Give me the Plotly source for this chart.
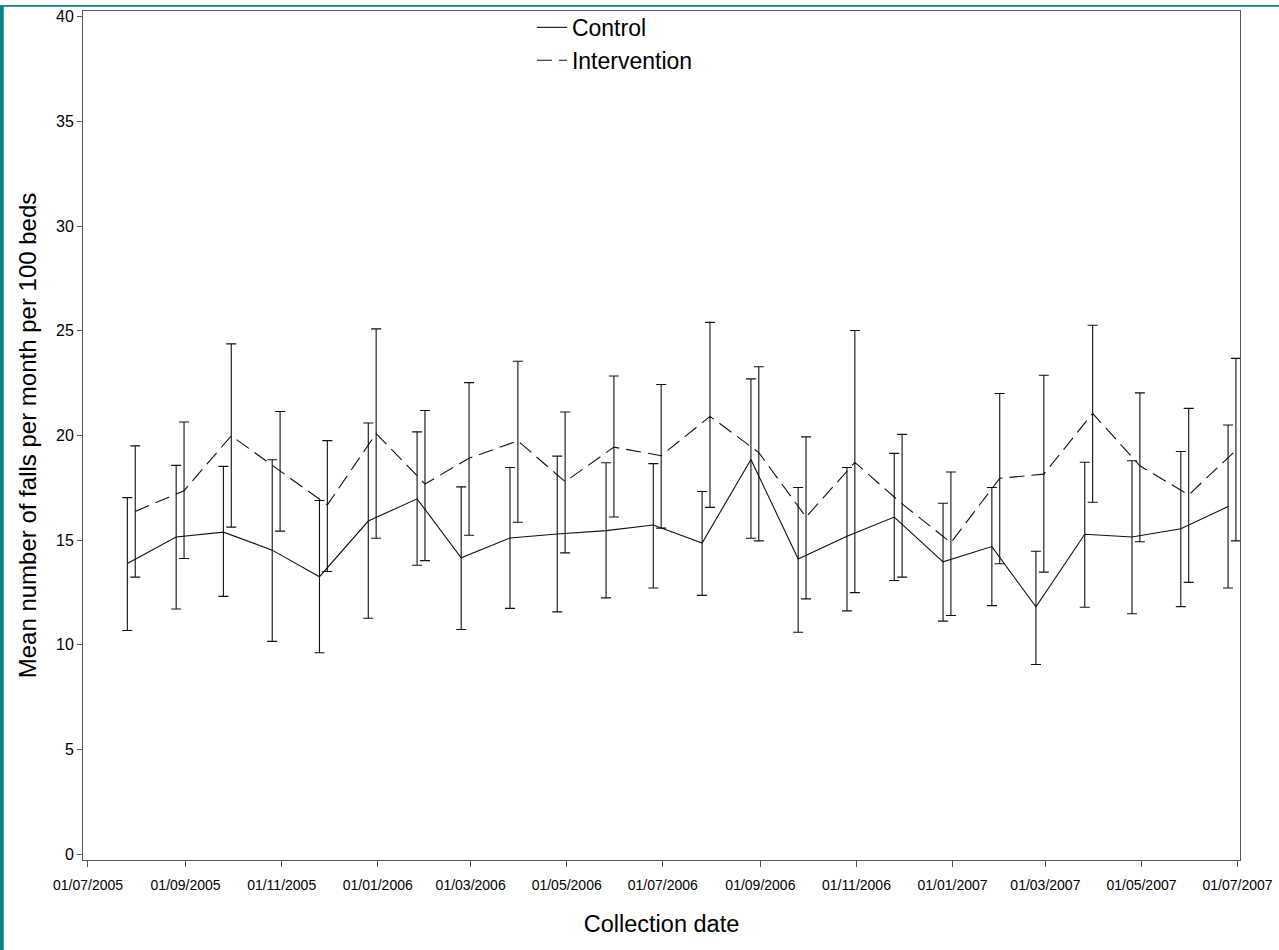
import pandas as pd
import plotly.graph_objects as go

# Months of collection (July 2005 - June 2007)
months = ["2005-07", "2005-08", "2005-09", "2005-10", "2005-11", "2005-12",
          "2006-01", "2006-02", "2006-03", "2006-04", "2006-05", "2006-06",
          "2006-07", "2006-08", "2006-09", "2006-10", "2006-11", "2006-12",
          "2007-01", "2007-02", "2007-03", "2007-04", "2007-05", "2007-06"]

control_mean = [13.88, 15.15, 15.38, 14.52, 13.25, 15.91, 16.97, 14.15, 15.10, 15.29, 15.45, 15.72,
                14.86, 18.85, 14.10, 15.18, 16.10, 13.96, 14.69, 11.81, 15.28, 15.15, 15.54, 16.60]
control_upper = [17.03, 18.57, 18.52, 18.84, 16.89, 20.59, 20.17, 17.54, 18.47, 19.01, 18.69, 18.65,
                 17.32, 22.70, 17.51, 18.47, 19.14, 16.76, 17.51, 14.47, 18.72, 18.79, 19.23, 20.50]
control_lower = [10.68, 11.71, 12.31, 10.16, 9.62, 11.27, 13.80, 10.73, 11.74, 11.57, 12.24, 12.71,
                 12.36, 15.09, 10.60, 11.62, 13.07, 11.13, 11.87, 9.06, 11.79, 11.48, 11.82, 12.71]

interv_mean = [16.37, 17.36, 19.98, 18.31, 16.68, 20.09, 17.68, 18.91, 19.74, 17.79, 19.44, 19.03,
               20.91, 19.18, 16.10, 18.71, 16.73, 14.88, 17.95, 18.15, 21.05, 18.55, 17.16, 19.29]
interv_upper = [19.50, 20.64, 24.37, 21.14, 19.75, 25.09, 21.19, 22.52, 23.54, 21.12, 22.84, 22.43,
                25.40, 23.28, 19.93, 25.01, 20.05, 18.25, 22.00, 22.87, 25.26, 22.03, 21.29, 23.68]
interv_lower = [13.23, 14.12, 15.62, 15.43, 13.50, 15.09, 14.02, 15.23, 15.85, 14.39, 16.10, 15.57,
                16.56, 14.96, 12.19, 12.49, 13.23, 11.40, 13.87, 13.47, 16.81, 14.92, 12.98, 14.96]

tick_dates = ["2005-07-01", "2005-09-01", "2005-11-01", "2006-01-01", "2006-03-01", "2006-05-01",
              "2006-07-01", "2006-09-01", "2006-11-01", "2007-01-01", "2007-03-01", "2007-05-01",
              "2007-07-01"]
tick_labels = ["01/07/2005", "01/09/2005", "01/11/2005", "01/01/2006", "01/03/2006", "01/05/2006",
               "01/07/2006", "01/09/2006", "01/11/2006", "01/01/2007", "01/03/2007", "01/05/2007",
               "01/07/2007"]
y_ticks = [0, 5, 10, 15, 20, 25, 30, 35, 40]

# plotting positions: month end for intervention, 5 days earlier for control
month_end = pd.to_datetime(months) + pd.offsets.MonthEnd(0)
x_int = month_end
x_ctl = month_end - pd.Timedelta(days=5)

FONT = "Liberation Sans, Arial, sans-serif"

def err(mean, up, lo):
    return dict(type="data", symmetric=False,
                array=[u - m for u, m in zip(up, mean)],
                arrayminus=[m - l for m, l in zip(mean, lo)],
                color="#111111", thickness=1.1, width=5)

fig = go.Figure()
fig.add_trace(go.Scatter(x=x_ctl, y=control_mean, mode="lines", name="Control",
                         line=dict(color="#111111", width=1.1),
                         error_y=err(control_mean, control_upper, control_lower)))
fig.add_trace(go.Scatter(x=x_int, y=interv_mean, mode="lines", name="Intervention",
                         line=dict(color="#111111", width=1.1, dash="15px,7px"),
                         error_y=err(interv_mean, interv_upper, interv_lower)))

fig.update_layout(
    width=1279, height=950,
    margin=dict(l=83, r=39, t=6, b=90),
    paper_bgcolor="white", plot_bgcolor="white",
    font=dict(family=FONT, color="black"),
    showlegend=True,
    legend=dict(x=0.388, y=1.006, xanchor="left", yanchor="top",
                font=dict(size=23, family=FONT), bgcolor="rgba(0,0,0,0)",
                itemwidth=30, tracegroupgap=0),
    xaxis=dict(type="date", range=["2005-06-27 20:00", "2007-07-02 14:00"],
               tickvals=tick_dates, ticktext=tick_labels,
               tickfont=dict(size=14, family=FONT), ticks="outside", ticklen=6,
               ticklabelstandoff=6,
               tickcolor="#555555", showline=True, linecolor="#555555", linewidth=1,
               mirror=True, showgrid=False, zeroline=False,
               title=dict(text="Collection date", font=dict(size=23.5, family=FONT), standoff=23)),
    yaxis=dict(range=[-0.28, 40.27], tickvals=y_ticks,
               tickfont=dict(size=16, family=FONT), ticks="outside", ticklen=5,
               tickcolor="#555555", showline=True, linecolor="#555555", linewidth=1,
               mirror=True, showgrid=False, zeroline=False,
               title=dict(text="Mean number of falls per month per 100 beds",
                          font=dict(size=24, family=FONT), standoff=12)),
    shapes=[
        dict(type="rect", xref="paper", yref="paper", x0=-0.0720, x1=-0.0685,
             y0=-0.106, y1=1.0072, fillcolor="#078585", line=dict(width=0), layer="above"),
        dict(type="rect", xref="paper", yref="paper", x0=-0.0720, x1=1.034,
             y0=1.0049, y1=1.0072, fillcolor="#078585", line=dict(width=0), layer="above"),
    ],
)

fig.write_html("out.html", config={"displayModeBar": False},
               post_script="document.body.style.margin='0px';")
